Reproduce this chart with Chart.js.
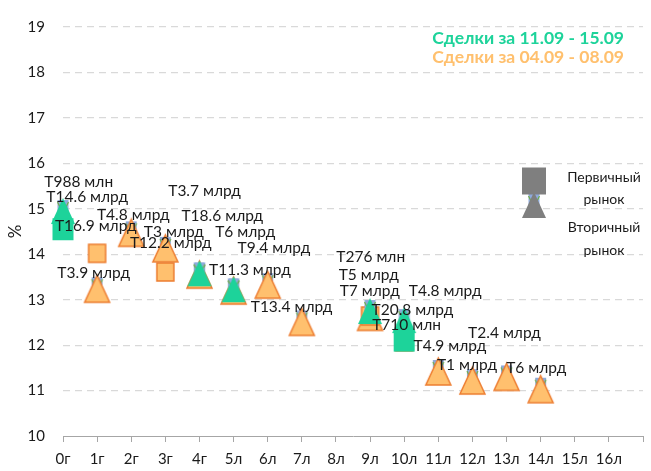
<!DOCTYPE html>
<html>
<head>
<meta charset="utf-8">
<script src="https://cdn.jsdelivr.net/npm/chart.js@4.4.0/dist/chart.umd.min.js"></script>
<style>
  html, body { margin: 0; padding: 0; background: #fff; }
</style>
</head>
<body>
<canvas id="chart" width="651" height="471"></canvas>
<script>
// x axis: 0..16, last tick (17) has no label
const xLabels = ['0г', '1г', '2г', '3г', '4г', '5л', '6л', '7л', '8л', '9л', '10л', '11л', '12л', '13л', '14л', '15л', '16л', ''];

// Сделки за 11.09 - 15.09
const curPrimX = [0, 10];
const curPrimY = [14.55, 12.1];
const curSecX = [0, 4, 5, 9, 10];
const curSecY = [14.95, 13.58, 13.23, 12.75, 12.55];

// Сделки за 04.09 - 08.09
const prevPrimX = [1, 3, 9, 10];
const prevPrimY = [14.02, 13.61, 12.64, 12.07];
const prevSecX = [1, 2, 3, 4, 5, 6, 7, 9, 11, 12, 13, 14];
const prevSecY = [13.24, 14.47, 14.13, 13.55, 13.2, 13.33, 12.51, 12.62, 11.42, 11.22, 11.3, 11.03];

// deal volume labels (placed in axis units)
const dealText = ['T988 млн', 'T14.6 млрд', 'T16.9 млрд', 'T3.9 млрд', 'T4.8 млрд', 'T3 млрд', 'T12.2 млрд',
    'T3.7 млрд', 'T18.6 млрд', 'T6 млрд', 'T9.4 млрд', 'T11.3 млрд', 'T13.4 млрд',
    'T276 млн', 'T5 млрд', 'T7 млрд', 'T4.8 млрд', 'T20.8 млрд', 'T710 млн', 'T4.9 млрд',
    'T2.4 млрд', 'T1 млрд', 'T6 млрд'];
const dealX = [0.46, 0.71, 0.96, 0.90, 2.06, 3.25, 3.16,
    4.15, 4.67, 5.34, 6.18, 5.48, 6.70,
    9.02, 8.96, 8.99, 11.20, 10.24, 10.07, 11.34,
    12.94, 11.84, 13.87];
const dealY = [15.60, 15.26, 14.63, 13.59, 14.87, 14.50, 14.24,
    15.39, 14.85, 14.50, 14.13, 13.66, 12.83,
    13.94, 13.55, 13.20, 13.20, 12.77, 12.44, 11.99,
    12.27, 11.56, 11.49];

const GREEN = '#1DD39A';
const ORANGE_FILL = '#FFC06E';
const ORANGE_LINE = '#ED7D31';
const FONT = 'Lato';

function toPoints(xs, ys) {
    return xs.map((v, i) => ({ x: v, y: ys[i] }));
}

// marker images, so the shapes look like the Excel ones
function triangleImg(fill, stroke, w, h) {
    const c = document.createElement('canvas');
    c.width = w + 4;
    c.height = h + 4;
    const g = c.getContext('2d');
    const cx = c.width / 2;
    // little marker of the label series that sits behind
    g.fillStyle = '#8FAADC';
    g.fillRect(cx - 5.5, 4, 11, 11);
    g.strokeStyle = '#70AD47';
    g.lineWidth = 1.2;
    g.beginPath();
    g.moveTo(cx - 5.5, 6); g.lineTo(cx - 1, 15);
    g.moveTo(cx + 5.5, 6); g.lineTo(cx + 1, 15);
    g.stroke();
    g.beginPath();
    g.moveTo(cx, 2);
    g.lineTo(c.width - 2, h + 2);
    g.lineTo(2, h + 2);
    g.closePath();
    g.fillStyle = fill;
    g.fill();
    if (stroke) {
        g.strokeStyle = stroke;
        g.lineWidth = 1.5;
        g.stroke();
    }
    return c;
}

function rectImg(fill, stroke, w, h) {
    const c = document.createElement('canvas');
    c.width = w + 4;
    c.height = h + 4;
    const g = c.getContext('2d');
    g.fillStyle = fill;
    g.fillRect(2, 2, w, h);
    if (stroke) {
        g.strokeStyle = stroke;
        g.lineWidth = 1.5;
        g.strokeRect(2, 2, w, h);
    }
    return c;
}

const greenTri = triangleImg(GREEN, null, 24, 26);
const greenSq = rectImg(GREEN, null, 21, 22);
const orangeTri = triangleImg(ORANGE_FILL, ORANGE_LINE, 25, 27);
const orangeSq = rectImg(ORANGE_FILL, ORANGE_LINE, 17, 18);
const grayTri = triangleImg('#7F7F7F', null, 24, 26);
const graySq = rectImg('#7F7F7F', null, 24, 27);

// data labels on top of the markers
const dealLabels = {
    id: 'dealLabels',
    afterDatasetsDraw(chart) {
        const { ctx, scales: { x, y } } = chart;
        ctx.save();
        ctx.font = '15.5px ' + FONT;
        ctx.fillStyle = '#1a1a1a';
        ctx.textAlign = 'center';
        ctx.textBaseline = 'middle';
        dealText.forEach((t, i) => {
            ctx.fillText(t, x.getPixelForValue(dealX[i]), y.getPixelForValue(dealY[i]));
        });
        ctx.restore();
    }
};

// legends drawn inside the plot
const legends = {
    id: 'legends',
    afterDraw(chart) {
        const { ctx, chartArea } = chart;
        const r = chartArea.right;
        ctx.save();
        ctx.font = 'bold 17.5px ' + FONT;
        ctx.textAlign = 'right';
        ctx.textBaseline = 'middle';
        ctx.fillStyle = GREEN;
        ctx.fillText('Сделки за 11.09 - 15.09', r - 19, 38);
        ctx.fillStyle = ORANGE_FILL;
        ctx.fillText('Сделки за 04.09 - 08.09', r - 19, 57);

        const mx = r - 109;
        ctx.drawImage(grayTri, mx - grayTri.width / 2, 205 - grayTri.height / 2);
        ctx.drawImage(graySq, mx - graySq.width / 2, 181 - graySq.height / 2);

        ctx.font = '14px ' + FONT;
        ctx.fillStyle = '#1a1a1a';
        ctx.textAlign = 'center';
        ctx.fillText('Первичный', r - 39, 177);
        ctx.fillText('рынок', r - 39, 199);
        ctx.fillText('Вторичный', r - 39, 227);
        ctx.fillText('рынок', r - 39, 250);
        ctx.restore();
    }
};

const ctx = document.getElementById('chart').getContext('2d');
const chart = new Chart(ctx, {
    type: 'scatter',
    data: {
        datasets: [
            { label: 'Первичный 11.09-15.09', data: toPoints(curPrimX, curPrimY), pointStyle: greenSq, order: 0, clip: false },
            { label: 'Вторичный 11.09-15.09', data: toPoints(curSecX, curSecY), pointStyle: greenTri, order: 1, clip: false },
            { label: 'Первичный 04.09-08.09', data: toPoints(prevPrimX, prevPrimY), pointStyle: orangeSq, order: 2, clip: false },
            { label: 'Вторичный 04.09-08.09', data: toPoints(prevSecX, prevSecY), pointStyle: orangeTri, order: 3, clip: false }
        ]
    },
    options: {
        responsive: false,
        animation: false,
        events: [],
        layout: { padding: { top: 20, right: 2, left: 0, bottom: 0 } },
        plugins: {
            legend: { display: false },
            tooltip: { enabled: false }
        },
        scales: {
            x: {
                type: 'linear',
                min: 0,
                max: 17,
                ticks: {
                    stepSize: 1,
                    autoSkip: false,
                    maxRotation: 0,
                    padding: 8,
                    color: '#1a1a1a',
                    font: { family: FONT, size: 15 },
                    callback: v => xLabels[v]
                },
                grid: { drawOnChartArea: false, drawTicks: true, tickLength: 6, color: '#A6A6A6' },
                border: { color: '#A6A6A6', width: 1 },
                afterFit: s => { s.height = 35; }
            },
            y: {
                min: 10,
                max: 19,
                ticks: {
                    stepSize: 1,
                    padding: 18,
                    color: '#1a1a1a',
                    font: { family: FONT, size: 15 }
                },
                grid: {
                    drawTicks: false,
                    lineWidth: 1.2,
                    color: c => c.tick && c.tick.value === 10 ? 'rgba(0,0,0,0)' : '#D9D9D9'
                },
                border: { display: false, dash: [7, 5] },
                title: {
                    display: true,
                    text: '%',
                    color: '#1a1a1a',
                    font: { family: FONT, size: 17 },
                    padding: { top: 5, bottom: 0 }
                },
                afterFit: s => { s.width = 63; }
            }
        }
    },
    plugins: [dealLabels, legends]
});
</script>
</body>
</html>
